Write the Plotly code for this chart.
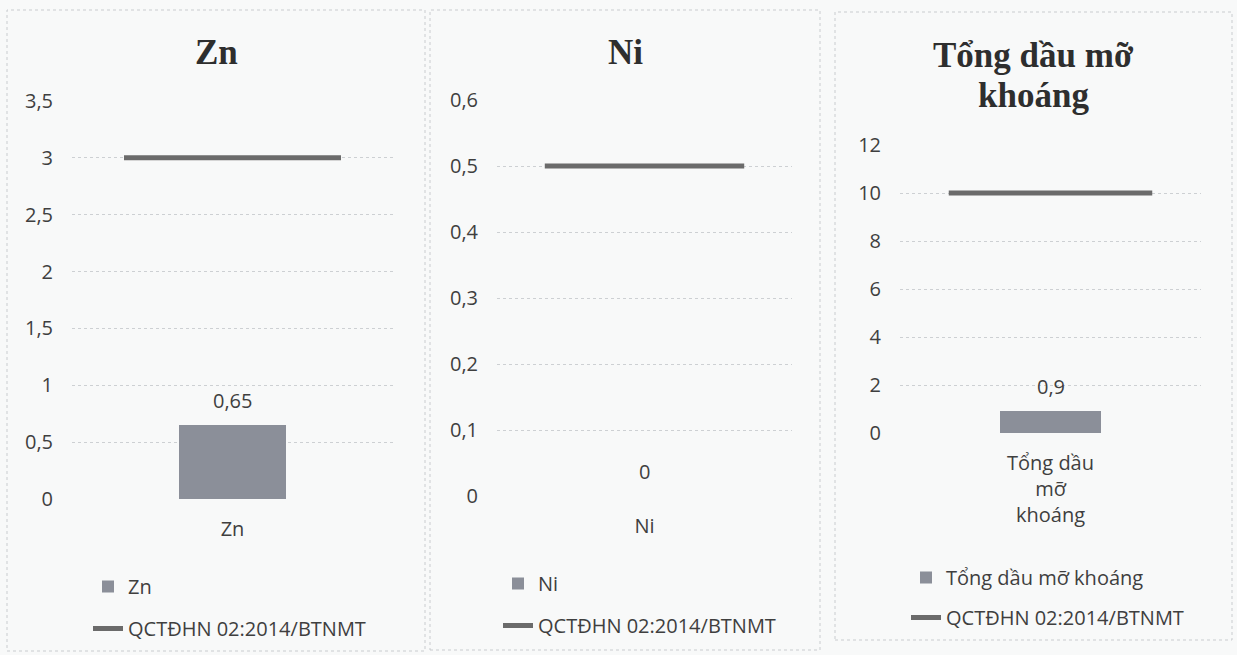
import plotly.graph_objects as go

W, H = 1237, 655

# ---- data ----
titles = ["Zn", "Ni", "Tổng dầu mỡ<br>khoáng"]
categories = ["Zn", "Ni", "Tổng dầu mỡ khoáng"]
category_ticks = ["Zn", "Ni", "Tổng dầu<br>mỡ<br>khoáng"]
measured = [0.65, 0.0, 0.9]
measured_labels = ["0,65", "0", "0,9"]
limit_name = "QCTĐHN 02:2014/BTNMT"
limit_values = [3.0, 0.5, 10.0]
y_max = [3.5, 0.6, 12]
y_step = [0.5, 0.1, 2]

# ---- layout geometry (pixels) ----
plot_x = [(72, 393), (497, 792), (900, 1201)]
plot_y = [(101, 499), (100, 496), (145, 433)]
panels = [(7, 10, 425, 651), (430, 10, 820, 650), (835, 12, 1232, 640)]
title_y = [[52], [52], [55, 95]]
legend_top = [567, 564, 558]
legend_x = [88, 498, 906]
legend_gap = [13, 13, 11]

BAR_COLOR = "#8b8f99"
LINE_COLOR = "#6b6b6b"
TEXT_COLOR = "#3f3f3f"
FONT = "Open Sans"
FS = 20
BAR_WIDTH = 0.333
LINE_HALF = 0.338

fig = go.Figure()

for i in range(3):
    sfx = "" if i == 0 else str(i + 1)
    xa, ya = "x" + sfx, "y" + sfx
    leg = "legend" if i == 0 else "legend" + str(i + 1)
    fig.add_trace(go.Bar(
        x=[0], y=[measured[i]], width=[BAR_WIDTH], name=categories[i],
        marker=dict(color=BAR_COLOR, line=dict(width=0)),
        xaxis=xa, yaxis=ya, legend=leg, legendgroup="bar%d" % i,
        showlegend=True,
    ))
    fig.add_trace(go.Scatter(
        x=[-LINE_HALF, LINE_HALF], y=[limit_values[i], limit_values[i]],
        mode="lines", name=limit_name,
        line=dict(color=LINE_COLOR, width=5),
        xaxis=xa, yaxis=ya, legend=leg, legendgroup="line%d" % i,
        showlegend=True,
    ))
    # data label
    fig.add_annotation(
        x=0, y=measured[i], xref=xa, yref=ya, text=measured_labels[i],
        showarrow=False, yshift=25, yanchor="middle", xanchor="center",
        font=dict(family=FONT, size=FS, color=TEXT_COLOR),
    )
    x0, x1 = plot_x[i]
    y0, y1 = plot_y[i]
    axis_x = dict(
        domain=[x0 / W, x1 / W], range=[-0.5, 0.5],
        tickmode="array", tickvals=[0], ticktext=[category_ticks[i]],
        showgrid=False, zeroline=False, showline=False, ticks="",
        ticklabelstandoff=16, automargin=False,
        tickfont=dict(family=FONT, size=FS, color=TEXT_COLOR),
        anchor=ya, fixedrange=True,
    )
    axis_y = dict(
        domain=[1 - y1 / H, 1 - y0 / H], range=[0, y_max[i]],
        dtick=y_step[i], tick0=0,
        showgrid=True, gridcolor="#cdd0d3", griddash="dot", gridwidth=1,
        zeroline=False, showline=False, ticks="",
        ticklabelstandoff=18, automargin=False,
        tickfont=dict(family=FONT, size=FS, color=TEXT_COLOR),
        anchor=xa, fixedrange=True,
    )
    fig.update_layout(**{"xaxis" + sfx: axis_x, "yaxis" + sfx: axis_y})

    fig.update_layout(**{leg: dict(
        x=legend_x[i] / W, y=1 - legend_top[i] / H, xanchor="left", yanchor="top",
        orientation="v", bgcolor="rgba(0,0,0,0)", borderwidth=0,
        font=dict(family=FONT, size=FS, color=TEXT_COLOR),
        tracegroupgap=legend_gap[i], traceorder="grouped",
    )})

    # title
    lines = titles[i].split("<br>")
    cx = (panels[i][0] + panels[i][2]) / 2
    for j, t in enumerate(lines):
        fig.add_annotation(
            x=cx / W, y=1 - title_y[i][j] / H, xref="paper", yref="paper",
            text="<b>%s</b>" % t, showarrow=False,
            xanchor="center", yanchor="middle",
            font=dict(family="Liberation Serif", size=35, color="#2e2e2e"),
        )
    # panel border
    px0, py0, px1, py1 = panels[i]
    fig.add_shape(type="rect", xref="paper", yref="paper",
                  x0=px0 / W, x1=px1 / W, y0=1 - py1 / H, y1=1 - py0 / H,
                  line=dict(color="#c9cccf", width=1, dash="dot"),
                  fillcolor="rgba(0,0,0,0)", layer="below")

fig.update_layout(
    template="none",
    width=W, height=H, autosize=False,
    margin=dict(l=0, r=0, t=0, b=0, pad=0),
    paper_bgcolor="#f8f9f9", plot_bgcolor="rgba(0,0,0,0)",
    separators=",.",
    bargap=0,
    font=dict(family=FONT, color=TEXT_COLOR),
)

fig.write_html(
    "out.html",
    config={"displayModeBar": False, "responsive": False},
    post_script="document.body.style.margin='0';document.body.style.overflow='hidden';",
)
